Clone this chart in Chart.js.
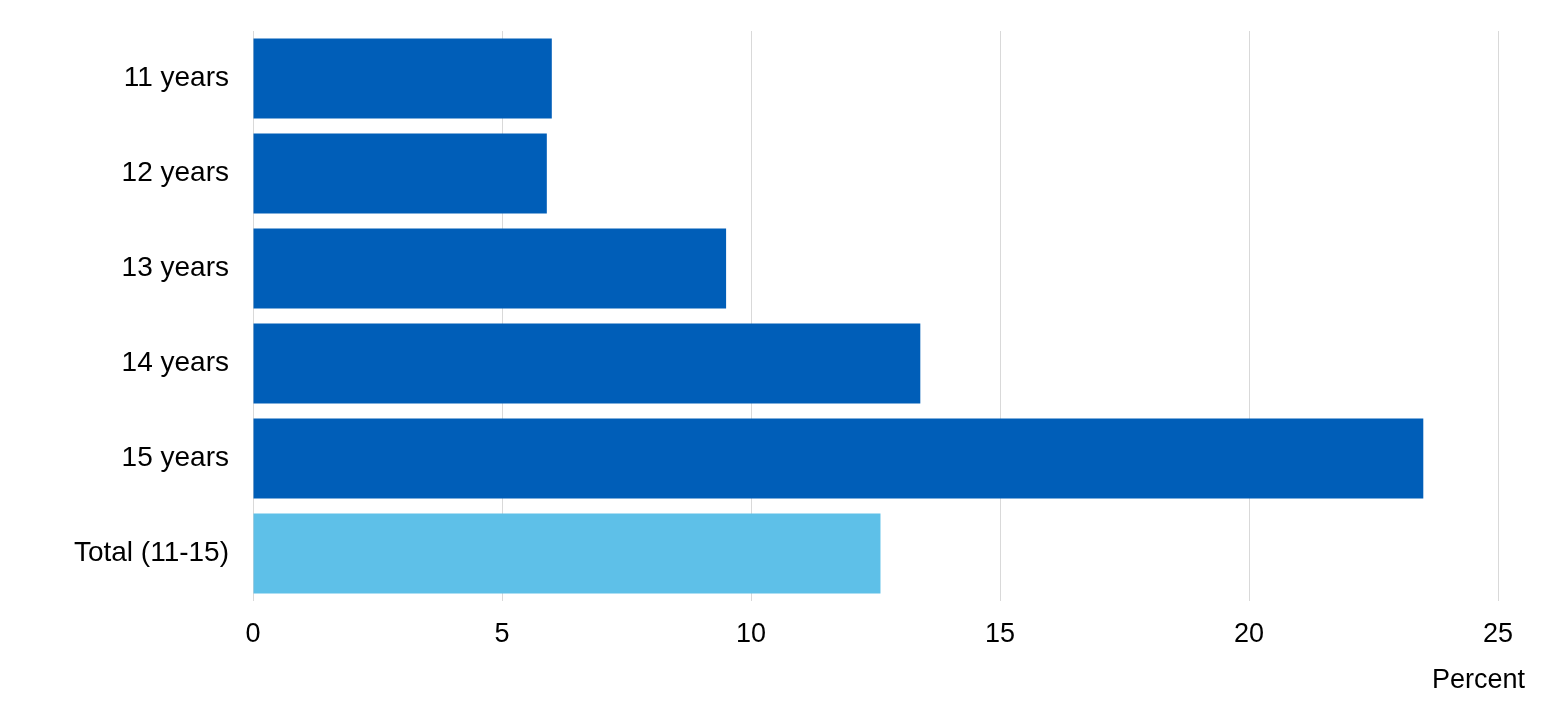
<!DOCTYPE html>
<html>
<head>
<meta charset="utf-8">
<script src="https://cdn.jsdelivr.net/npm/chart.js@4"></script>
<style>
  html, body { margin: 0; padding: 0; background: #fff; }
  #wrap { width: 1559px; height: 715px; position: relative; }
</style>
</head>
<body>
<div id="wrap"><canvas id="chart"></canvas></div>
<script>
  // ── Data ──────────────────────────────────────────
  const categories = ['11 years', '12 years', '13 years', '14 years', '15 years', 'Total (11-15)'];
  const percentValues = [6.0, 5.9, 9.5, 13.4, 23.5, 12.6];
  const xTicks = [0, 5, 10, 15, 20, 25];
  const axisTitle = 'Percent';

  const DARK = '#005EB8';
  const LIGHT = '#5EC0E8';
  const FONT = '"Liberation Sans", Arial, sans-serif';

  // "Percent" sits past the right edge of the plot, so draw it by hand
  const axisTitlePlugin = {
    id: 'axisTitle',
    afterDraw(chart) {
      const c = chart.ctx;
      c.save();
      c.font = '27px ' + FONT;
      c.fillStyle = '#000';
      c.textAlign = 'right';
      c.textBaseline = 'alphabetic';
      c.fillText(axisTitle, chart.width - 34, 688);
      c.restore();
    }
  };

  new Chart(document.getElementById('chart'), {
    type: 'bar',
    data: {
      labels: categories,
      datasets: [{
        data: percentValues,
        backgroundColor: categories.map((c, i) => i === categories.length - 1 ? LIGHT : DARK),
        borderWidth: 0,
        categoryPercentage: 1,
        barPercentage: 0.84
      }]
    },
    options: {
      indexAxis: 'y',
      responsive: true, maintainAspectRatio: false, animation: false,
      layout: { padding: { left: 0, right: 61, top: 31, bottom: 0 } },
      plugins: { legend: { display: false }, tooltip: { enabled: false } },
      scales: {
        x: {
          min: 0, max: 25,
          afterBuildTicks: (s) => { s.ticks = xTicks.map(v => ({ value: v })); },
          afterFit: (s) => { s.height = 114; },
          grid: { color: '#D9D9D9', lineWidth: 1, drawTicks: false },
          border: { display: false },
          ticks: { color: '#000', padding: 17, font: { family: FONT, size: 27 } }
        },
        y: {
          // tick padding would otherwise push the plot down
          afterFit: (s) => { s.width = 253; s.paddingTop = 0; s.paddingBottom = 0; },
          grid: { display: false, drawTicks: false },
          border: { display: false },
          ticks: { color: '#000', padding: 24, font: { family: FONT, size: 28 } }
        }
      }
    },
    plugins: [axisTitlePlugin]
  });
</script>
</body>
</html>
